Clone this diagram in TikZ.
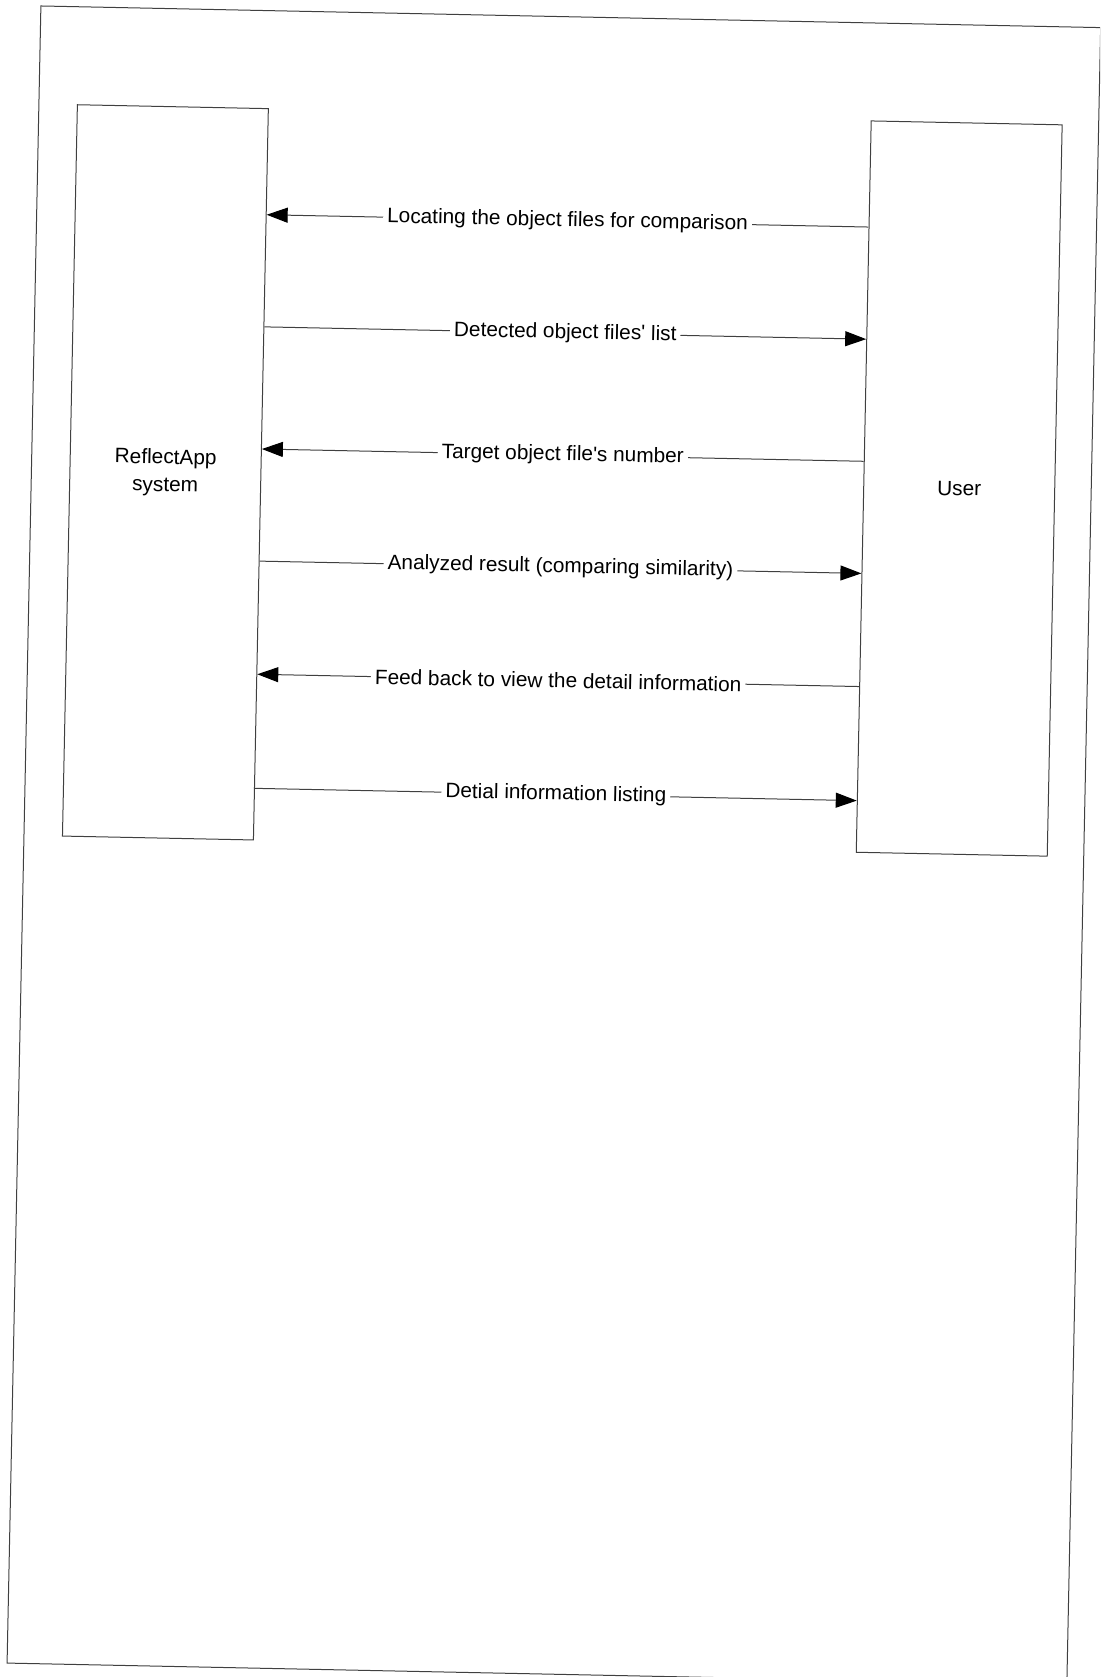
\documentclass[tikz,border=0pt]{standalone}
\usepackage{fontspec}
\setmainfont{Liberation Sans}[Ligatures=TeXOff]
\usetikzlibrary{arrows.meta,calc}
\begin{document}
\begin{tikzpicture}[x=0.5pt,y=-0.5pt,
  frame/.style={draw=black!75, line width=0.5pt},
  actor/.style={draw=black!75, line width=0.5pt, rectangle,
    minimum width=95.5pt, minimum height=365.75pt, inner sep=0pt,
    align=center, font=\fontsize{10.4}{13.8}\selectfont},
  msg/.style={draw=black!75, line width=0.5pt,
    -{Triangle[length=10.5pt,width=7.5pt,color=black]}},
  lbl/.style={midway, fill=white, inner xsep=2pt, inner ysep=1pt,
    font=\fontsize{10.4}{12}\selectfont}]
\useasboundingbox (0,0) rectangle (1100,1677);
\clip (0,0) rectangle (1100,1677);
% the whole sheet sits with a slight clockwise tilt
\begin{scope}[rotate around={-1.17:(550,838.5)}, transform shape]
  \draw[frame] (24,16.5) rectangle (1084,1674);
  \node[actor] (sys)  at (158,480.25) {ReflectApp\\system};
  \node[actor] (user) at (952,480.25) {User};

  \draw[msg] ($(user.north west)!0.1456!(user.south west)$) --
    node[lbl] {Locating the object files for comparison}
    ($(sys.north east)!0.1456!(sys.south east)$);
  \draw[msg] ($(sys.north east)!0.2987!(sys.south east)$) --
    node[lbl] {Detected object files' list}
    ($(user.north west)!0.2987!(user.south west)$);
  \draw[msg] ($(user.north west)!0.4655!(user.south west)$) --
    node[lbl] {Target object file's number}
    ($(sys.north east)!0.4655!(sys.south east)$);
  \draw[msg] ($(sys.north east)!0.6186!(sys.south east)$) --
    node[lbl] {Analyzed result (comparing similarity)}
    ($(user.north west)!0.6186!(user.south west)$);
  \draw[msg] ($(user.north west)!0.7731!(user.south west)$) --
    node[lbl] {Feed back to view the detail information}
    ($(sys.north east)!0.7731!(sys.south east)$);
  \draw[msg] ($(sys.north east)!0.9289!(sys.south east)$) --
    node[lbl] {Detial information listing}
    ($(user.north west)!0.9289!(user.south west)$);
\end{scope}
\end{tikzpicture}
\end{document}
